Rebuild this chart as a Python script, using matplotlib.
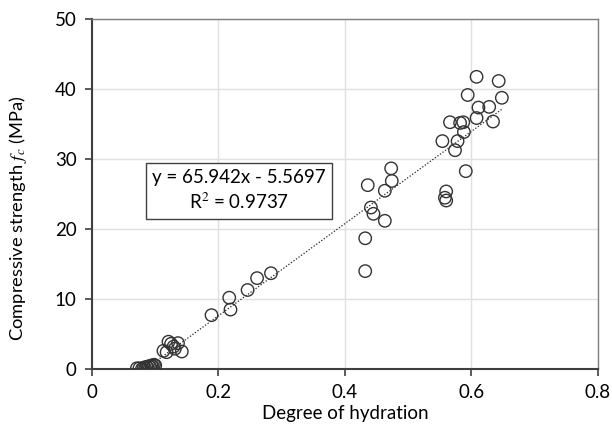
import numpy as np
import matplotlib.pyplot as plt

plt.rcParams['font.family'] = ['Lato', 'DejaVu Sans']
plt.rcParams['mathtext.fontset'] = 'stix'

# degree of hydration vs. compressive strength (MPa)
alpha = [0.071, 0.075, 0.079, 0.082, 0.084, 0.086, 0.088, 0.090, 0.092,
         0.094, 0.096, 0.098, 0.100,
         0.113, 0.118, 0.121, 0.125, 0.129, 0.131, 0.136, 0.142,
         0.189, 0.217, 0.219, 0.246, 0.261, 0.283,
         0.432, 0.432, 0.436, 0.441, 0.445, 0.463, 0.463, 0.473, 0.474,
         0.554, 0.558, 0.560, 0.560, 0.566, 0.574, 0.578, 0.582, 0.587,
         0.588, 0.591, 0.594, 0.608, 0.608, 0.611, 0.628, 0.634, 0.643, 0.648]
fc = [0.1, 0.1, 0.0, 0.2, 0.1, 0.3, 0.2, 0.4, 0.3,
      0.5, 0.4, 0.6, 0.5,
      2.6, 2.4, 3.9, 3.6, 3.2, 2.9, 3.7, 2.5,
      7.7, 10.2, 8.5, 11.3, 13.0, 13.7,
      14.0, 18.7, 26.3, 23.1, 22.2, 25.5, 21.2, 28.7, 26.9,
      32.6, 24.5, 24.1, 25.4, 35.3, 31.3, 32.6, 35.2, 35.3,
      33.9, 28.3, 39.2, 41.8, 35.9, 37.4, 37.5, 35.4, 41.2, 38.8]

slope, intercept, r2 = 65.942, -5.5697, 0.9737

fig = plt.figure(figsize=(6.12, 4.36), dpi=100)
ax = fig.add_axes([0.1503, 0.1537, 0.8268, 0.8016])

ax.scatter(alpha, fc, s=80, facecolors='none', edgecolors='#333333',
           linewidths=1.0, zorder=3)

# linear trendline over the data range
xt = np.array([min(alpha), max(alpha)])
ax.plot(xt, slope * xt + intercept, color='#222222', linestyle=(0, (1, 1.5)),
        linewidth=0.9, zorder=2)

ax.set_xlim(0, 0.8)
ax.set_ylim(0, 50)
ax.set_xticks([0, 0.2, 0.4, 0.6, 0.8])
ax.set_xticklabels(['0', '0.2', '0.4', '0.6', '0.8'])
ax.set_yticks([0, 10, 20, 30, 40, 50])
ax.grid(True, color='#e0e0e0', linewidth=1.0)
ax.set_axisbelow(True)

for s in ['left', 'bottom']:
    ax.spines[s].set_color('#404040')
    ax.spines[s].set_linewidth(1.5)
for s in ['top', 'right']:
    ax.spines[s].set_color('#7f7f7f')
    ax.spines[s].set_linewidth(1.0)

ax.tick_params(direction='out', length=5, width=1.2, color='#404040',
               labelsize=13.5, labelcolor='#000000', pad=6)

ax.set_xlabel('Degree of hydration', fontsize=13.5, labelpad=3)
ax.set_ylabel('Compressive strength $f_c$ (MPa)', fontsize=13.2)
ax.yaxis.set_label_coords(-0.125, 0.43)

ax.text(0.2905, 0.51, 'y = 65.942x - 5.5697\nR$^2$ = 0.9737',
        transform=ax.transAxes, ha='center', va='center', fontsize=13.5,
        linespacing=1.3,
        bbox=dict(boxstyle='square,pad=0.35', facecolor='white',
                  edgecolor='#404040', linewidth=1.0))

fig.savefig('out.png', dpi=100)
